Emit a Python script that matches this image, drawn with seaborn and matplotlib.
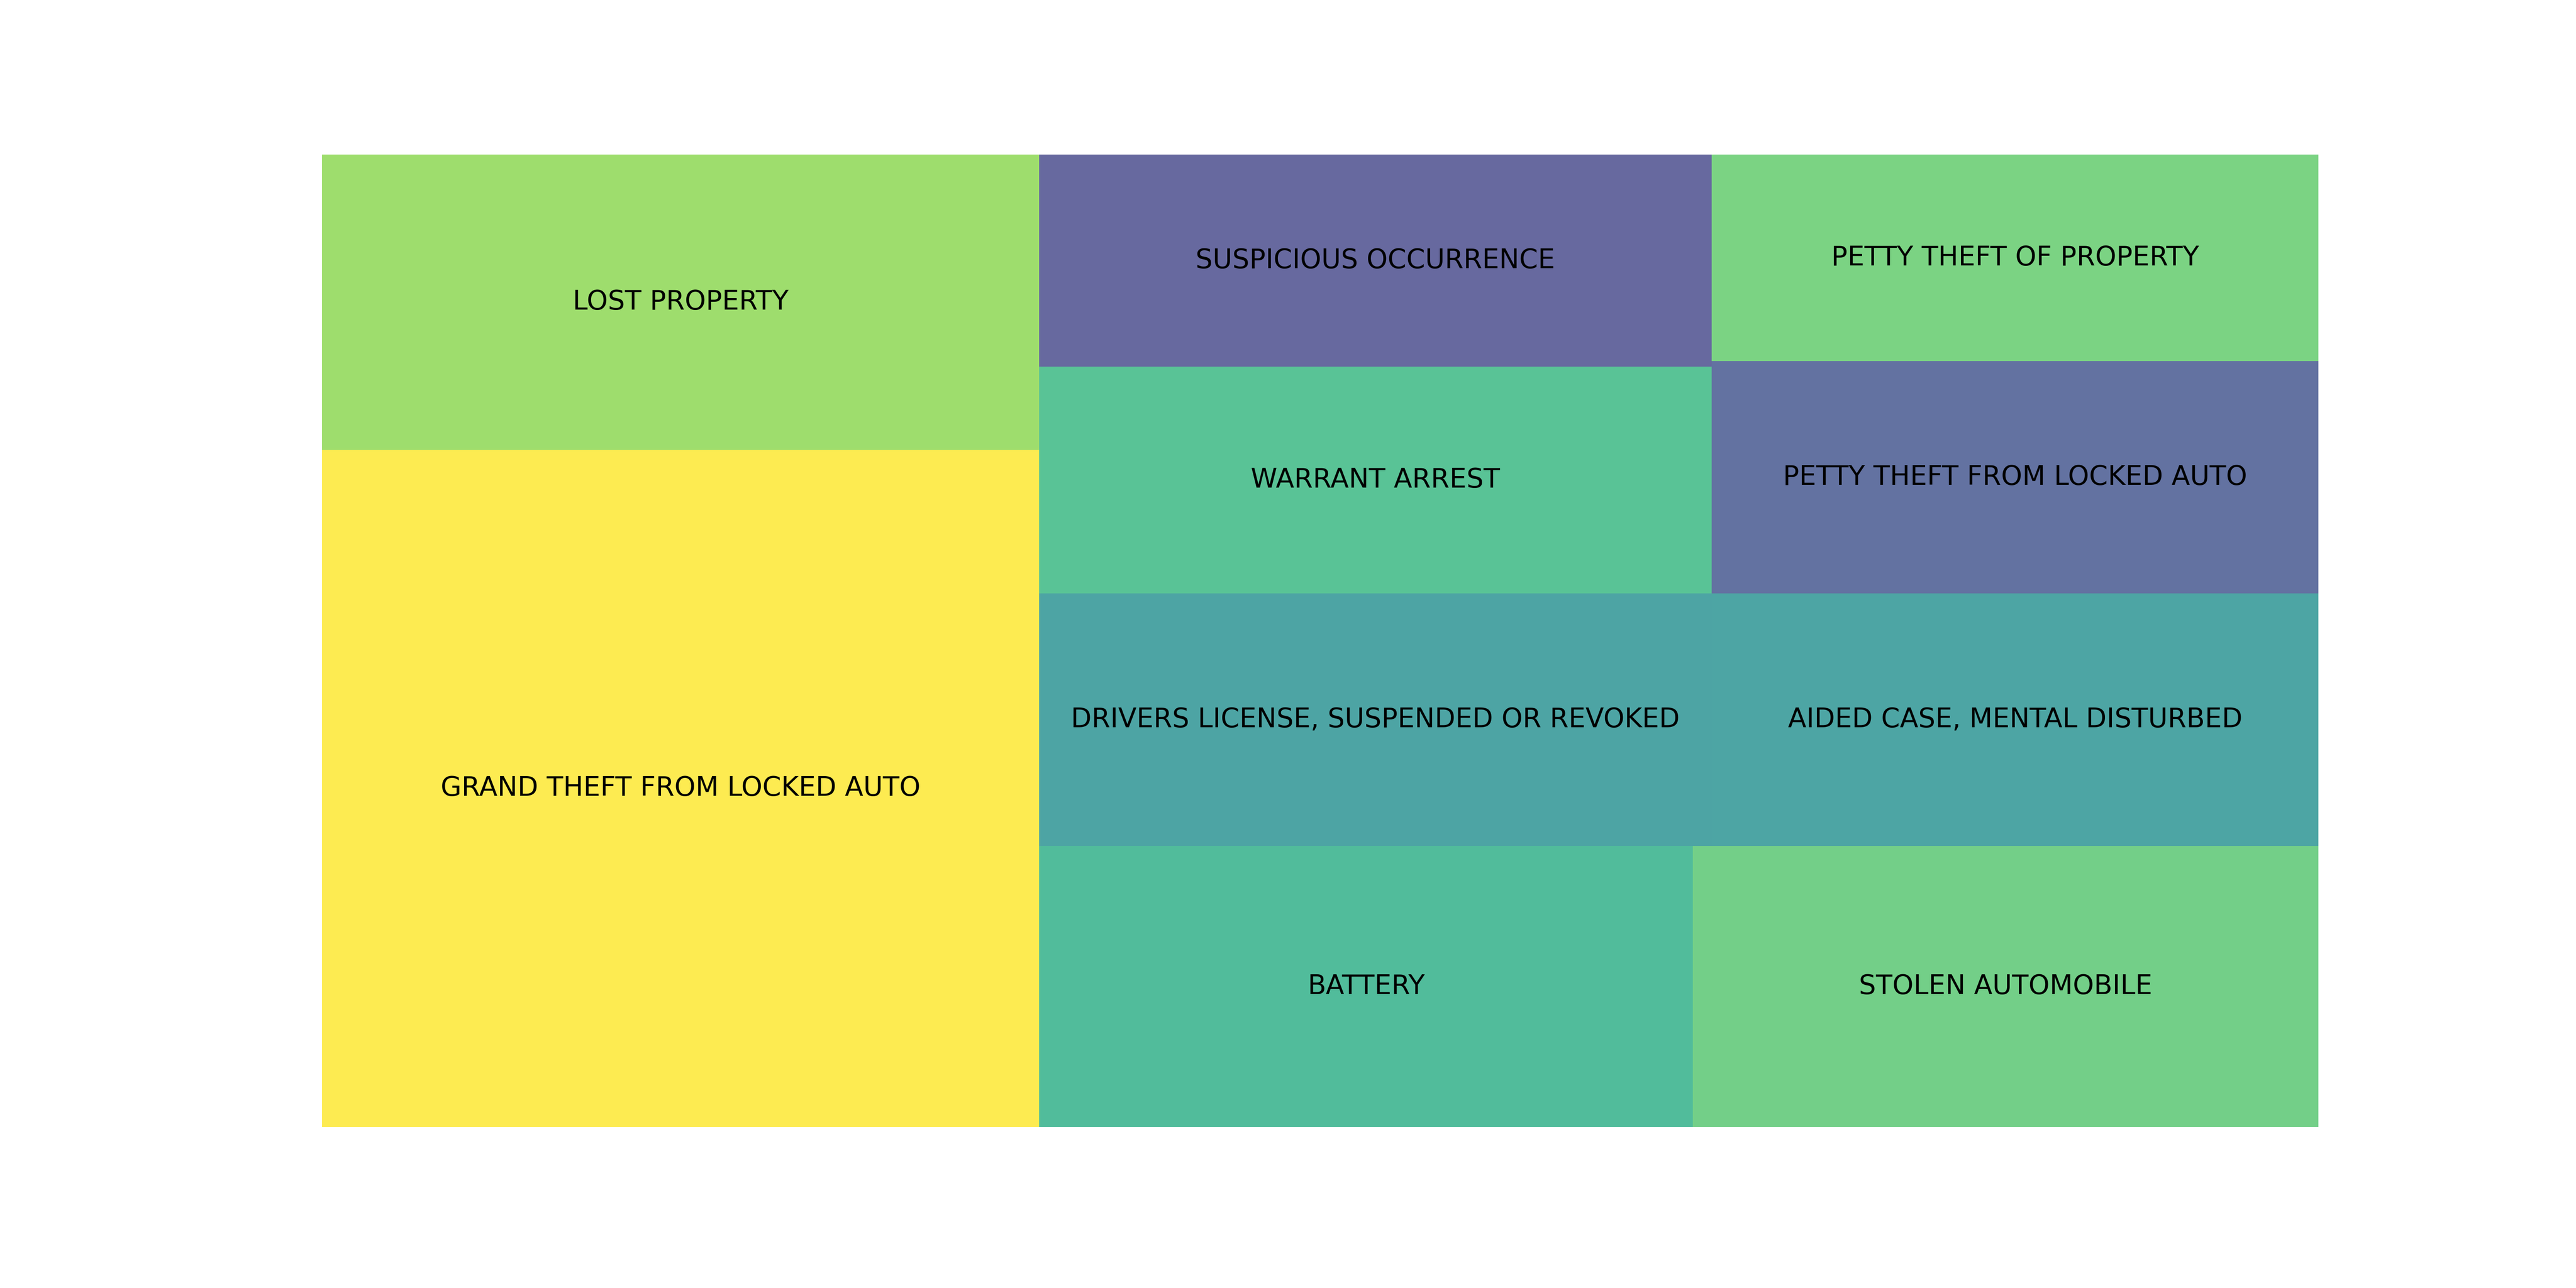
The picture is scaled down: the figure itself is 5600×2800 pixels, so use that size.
import matplotlib
matplotlib.use("Agg")
import matplotlib.pyplot as plt
import seaborn as sns

# incident descriptions, sorted by count (largest first)
labels = ["GRAND THEFT FROM LOCKED AUTO", "LOST PROPERTY", "BATTERY",
          "STOLEN AUTOMOBILE", "DRIVERS LICENSE, SUSPENDED OR REVOKED",
          "AIDED CASE, MENTAL DISTURBED", "WARRANT ARREST",
          "SUSPICIOUS OCCURRENCE", "PETTY THEFT FROM LOCKED AUTO",
          "PETTY THEFT OF PROPERTY"]
counts = [60022, 26179, 22708, 21735, 20993, 18939, 18853, 17629, 17423, 15489]

# position of each box on the viridis map
cmap_pos = [1.0, 0.82, 0.61, 0.725, 0.49, 0.495, 0.65, 0.2, 0.24, 0.745]


#%% squarified treemap layout
def layout(sizes, x, y, dx, dy):
    rects = []
    if dx >= dy:
        w = sum(sizes) / dy
        for s in sizes:
            rects.append((x, y, w, s / w))
            y += s / w
    else:
        h = sum(sizes) / dx
        for s in sizes:
            rects.append((x, y, s / h, h))
            x += s / h
    return rects


def leftover(sizes, x, y, dx, dy):
    if dx >= dy:
        w = sum(sizes) / dy
        return x + w, y, dx - w, dy
    h = sum(sizes) / dx
    return x, y + h, dx, dy - h


def worst_ratio(sizes, x, y, dx, dy):
    return max(max(r[2] / r[3], r[3] / r[2]) for r in layout(sizes, x, y, dx, dy))


def squarify(sizes, x, y, dx, dy):
    if len(sizes) == 0:
        return []
    if len(sizes) == 1:
        return layout(sizes, x, y, dx, dy)
    i = 1
    while i < len(sizes) and worst_ratio(sizes[:i], x, y, dx, dy) >= worst_ratio(sizes[:i + 1], x, y, dx, dy):
        i += 1
    cur, rest = sizes[:i], sizes[i:]
    lx, ly, ldx, ldy = leftover(cur, x, y, dx, dy)
    return layout(cur, x, y, dx, dy) + squarify(rest, lx, ly, ldx, ldy)


#%% plot
sns.set_style("white")
plt.rcParams['font.family'] = ['DejaVu Sans']

total = sum(counts)
norm = [c * 100 * 100 / total for c in counts]
rects = squarify(norm, 0, 0, 100, 100)

vir = sns.color_palette("viridis", as_cmap=True)
colors = [vir(p) for p in cmap_pos]

fig, ax = plt.subplots(figsize=(16, 8))
for (x, y, dx, dy), lab, col in zip(rects, labels, colors):
    ax.bar(x, dy, width=dx, bottom=y, color=col, align="edge", alpha=0.8, linewidth=0)
    ax.text(x + dx / 2, y + dy / 2, lab, ha="center", va="center", fontsize=12, color="black")

ax.set_xlim(0, 100)
ax.set_ylim(-2, 100)
ax.axis("off")
plt.savefig("out.png", dpi=350)
